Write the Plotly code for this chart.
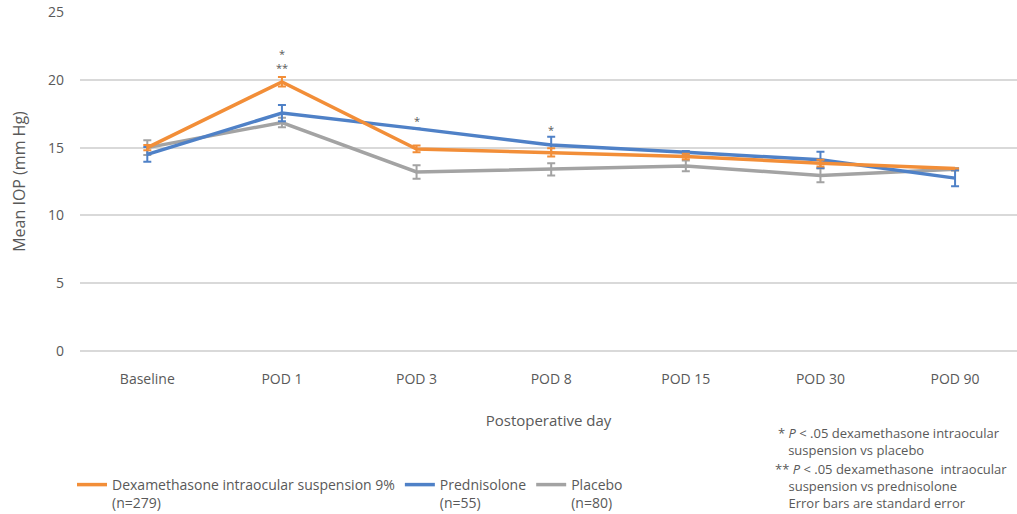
import plotly.graph_objects as go

categories = ["Baseline", "POD 1", "POD 3", "POD 8", "POD 15", "POD 30", "POD 90"]
dex = [15.0, 19.85, 14.9, 14.65, 14.35, 13.85, 13.45]
dex_err = [0.2, 0.35, 0.25, 0.3, 0.2, 0.25, 0.0]
pred = [14.5, 17.55, 16.4, 15.2, 14.65, 14.1, 12.75]
pred_err = [0.55, 0.6, 0.0, 0.6, 0.1, 0.6, 0.6]
plac = [15.0, 16.85, 13.2, 13.4, 13.65, 12.95, 13.4]
plac_err = [0.55, 0.35, 0.5, 0.45, 0.4, 0.5, 0.1]

dex_name = "Dexamethasone intraocular suspension 9%<br>(n=279)"
pred_name = "Prednisolone<br>(n=55)"
plac_name = "Placebo<br>(n=80)"

stars = [("POD 1", 21.4, "*<br>**"), ("POD 3", 17.0, "*"), ("POD 8", 16.3, "*")]

NB = "\u00a0"
footnotes = [
    "* <i>P</i> &lt; .05 dexamethasone intraocular<br>" + NB * 3 + "suspension vs placebo",
    "** <i>P</i> &lt; .05 dexamethasone  intraocular<br>" + NB * 4 + "suspension vs prednisolone",
    NB * 4 + "Error bars are standard error",
]

ORANGE = "#F28E38"
BLUE = "#4F81C7"
GRAY = "#A3A3A3"
TXT = "#595959"
FONT = "Open Sans"

W, H = 1017, 514
L, R, T, B = 80, 0, 12, 163
PW, PH = W - L - R, H - T - B


def px2paper(xp, yp):
    return (xp - L) / PW, (H - B - yp) / PH


fig = go.Figure()
for name, y, err, col in [(plac_name, plac, plac_err, GRAY),
                          (pred_name, pred, pred_err, BLUE),
                          (dex_name, dex, dex_err, ORANGE)]:
    fig.add_trace(go.Scatter(
        x=categories, y=y, name=name, mode="lines",
        line=dict(color=col, width=3.5),
        error_y=dict(type="data", array=err, visible=True, color=col, thickness=2, width=4),
    ))

for cat, yv, txt in stars:
    fig.add_annotation(x=cat, y=yv, text=txt, showarrow=False,
                       font=dict(family=FONT, size=11, color=TXT))

foot_pos = [(776, 441), (773, 477), (773, 503)]
for (xp, yp), txt in zip(foot_pos, footnotes):
    xx, yy = px2paper(xp, yp)
    fig.add_annotation(x=xx, y=yy, xref="paper", yref="paper",
                       xanchor="left", yanchor="middle", align="left",
                       text=txt, showarrow=False,
                       font=dict(family=FONT, size=13, color=TXT))

fig.update_layout(
    width=W, height=H,
    margin=dict(l=L, r=R, t=T, b=B),
    plot_bgcolor="white", paper_bgcolor="white",
    font=dict(family=FONT, size=14, color=TXT),
    showlegend=True,
    legend=dict(orientation="h", x=72 / W, xanchor="left", xref="container",
                y=1 - 469 / H, yanchor="top", yref="container",
                traceorder="reversed", font=dict(family=FONT, size=14, color=TXT),
                valign="top", itemwidth=30),
    xaxis=dict(range=[-0.5, 6.46], showgrid=False, showline=False, ticks="",
               ticklabelstandoff=18,
               tickfont=dict(size=14, color=TXT),
               title=dict(text="Postoperative day", font=dict(size=15, color=TXT), standoff=28)),
    yaxis=dict(range=[0, 25], dtick=5, showgrid=True, gridcolor="#D9D9D9", gridwidth=1.5,
               zeroline=True, zerolinecolor="#D9D9D9", zerolinewidth=1.5, showline=False,
               ticks="", ticklabelstandoff=15,
               tickfont=dict(size=14, color=TXT),
               title=dict(text="Mean IOP (mm Hg)", font=dict(size=16, color=TXT), standoff=18)),
)

fig.write_html("out.html")
